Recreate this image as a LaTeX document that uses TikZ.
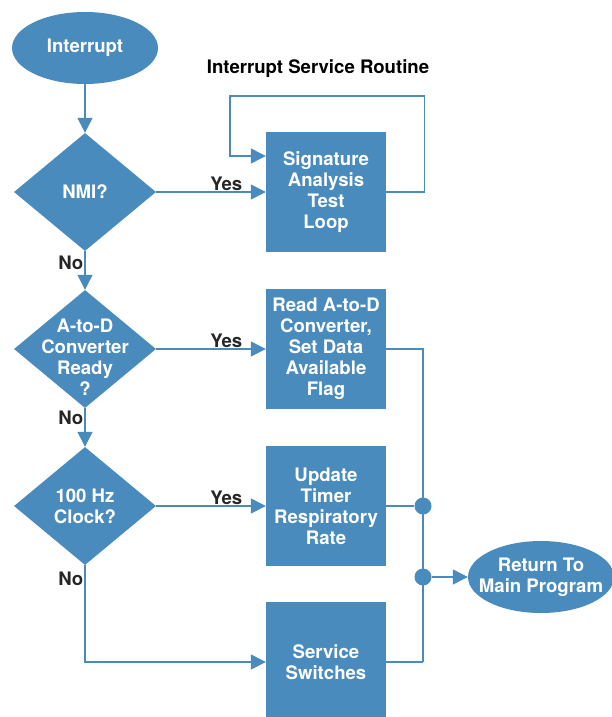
\documentclass[tikz,border=0pt]{standalone}
\usepackage{fontspec}
\setmainfont{TeX Gyre Heros}
\usetikzlibrary{shapes.geometric,arrows.meta}
\definecolor{hpblue}{RGB}{74,139,190}

\begin{document}
\begin{tikzpicture}
  [x=1pt,y=-1pt,
   every node/.style={font=\bfseries\fontsize{18.6}{21}\selectfont,align=center},
   flow/.style={draw=hpblue,line width=1.3pt},
   tip/.style={-{Triangle[length=15pt,width=15pt]}},
   term/.style={ellipse,fill=hpblue,text=white,minimum width=146pt,minimum height=72pt,inner xsep=-20pt,inner ysep=0pt},
   task/.style={rectangle,fill=hpblue,text=white,minimum width=120pt,minimum height=120pt,inner sep=0pt},
   decision/.style={diamond,fill=hpblue,minimum width=142pt,minimum height=118pt,inner sep=0pt},
   inside/.style={text=white},
   tag/.style={text=black!85,inner sep=1pt},
   dot/.style={circle,fill=hpblue,minimum size=17pt,inner sep=0pt}]
  \useasboundingbox (0,0) rectangle (612,717);

  \node[term] (intr) at (85,48) {Interrupt};
  \node (title) at (318,69) {Interrupt Service Routine};

  \node[decision,label={[inside]center:NMI?}] (nmi) at (85,192) {};
  \node[decision,label={[inside,yshift=-8pt]center:A-to-D\\Converter\\Ready\\?}] (adc) at (85,349) {};
  \node[decision,label={[inside]center:100 Hz\\Clock?}] (clk) at (85,506) {};

  \node[task] (sig) at (326,192) {Signature\\Analysis\\Test\\Loop};
  \node[task] (rd) at (326,349) {Read A-to-D\\Converter,\\Set Data\\Available\\Flag};
  \node[task] (upd) at (326,506) {Update\\Timer\\Respiratory\\Rate};
  \node[task] (sw) at (326,662) {Service\\Switches};

  \node[dot] (j1) at (423,506) {};
  \node[dot] (j2) at (423,577) {};
  \coordinate (bus) at (423,662);
  \node[term] (ret) at (541,577) {Return To\\Main Program};

  \draw[flow,tip] (intr) -- (nmi);
  \draw[flow,tip] (nmi) -- node[tag,left,pos=0.3]{No} (adc);
  \draw[flow,tip] (adc) -- node[tag,left,pos=0.25]{No} (clk);
  \draw[flow,tip] (clk) |- node[tag,left,pos=0.07]{No} (sw);

  \foreach \from/\to in {nmi/sig,adc/rd,clk/upd}
    \draw[flow,tip] (\from) -- node[tag,above,pos=0.64]{Yes} (\to);

  \draw[flow,tip] (sig.east) -- ++(38,0) |- (230,96) |- ([yshift=36pt]sig.west);

  \draw[flow] (rd.east) -| (bus);
  \draw[flow] (sw.east) -- (bus);
  \draw[flow] (upd.east) -- (j1);
  \draw[flow,tip] (j2) -- (ret);
\end{tikzpicture}
\end{document}
